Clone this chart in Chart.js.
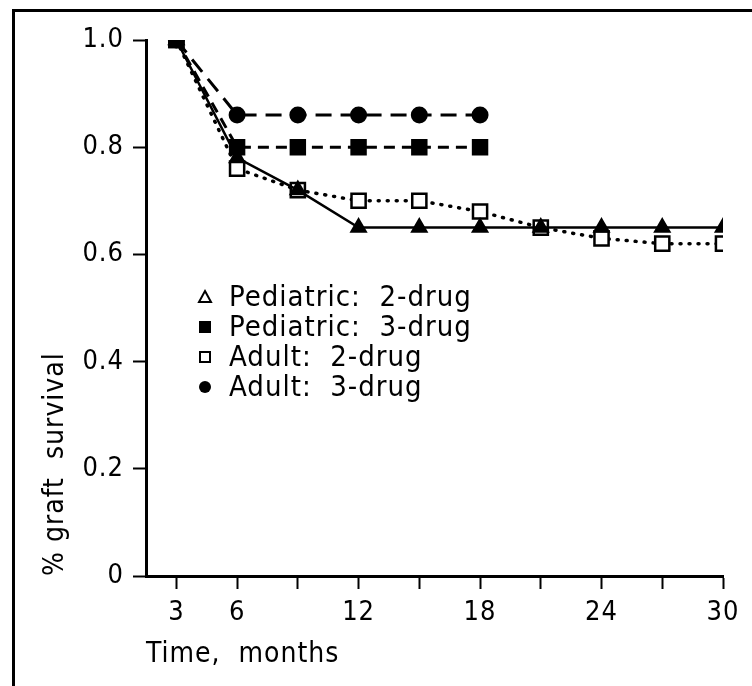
<!DOCTYPE html>
<html>
<head>
<meta charset="utf-8">
<script src="https://cdn.jsdelivr.net/npm/chart.js@4/dist/chart.umd.min.js"></script>
<style>
  body { margin: 0; background: #fff; }
  #wrap { position: relative; width: 752px; height: 686px; }
  #frame { position: absolute; left: 12px; top: 9px; right: 0; bottom: 0; border-left: 3px solid #000; border-top: 3px solid #000; pointer-events: none; }
</style>
</head>
<body>
<div id="wrap">
  <canvas id="chart" width="752" height="686"></canvas>
  <div id="frame"></div>
</div>
<script>
// months on the x axis
var ped2Months = [3, 6, 9, 12, 15, 18, 21, 24, 27, 30];
var ped2Values = [1.0, 0.78, 0.72, 0.65, 0.65, 0.65, 0.65, 0.65, 0.65, 0.65];

var ped3Months = [3, 6, 9, 12, 15, 18];
var ped3Values = [1.0, 0.80, 0.80, 0.80, 0.80, 0.80];

var adult2Months = [3, 6, 9, 12, 15, 18, 21, 24, 27, 30];
var adult2Values = [1.0, 0.76, 0.72, 0.70, 0.70, 0.68, 0.65, 0.63, 0.62, 0.62];

var adult3Months = [3, 6, 9, 12, 15, 18];
var adult3Values = [1.0, 0.86, 0.86, 0.86, 0.86, 0.86];

var xTicks = [3, 6, 9, 12, 15, 18, 21, 24, 27, 30];
var xTickLabels = ["3", "6", "", "12", "", "18", "", "24", "", "30"];
var yTicks = [0, 0.2, 0.4, 0.6, 0.8, 1.0];
var yTickLabels = ["0", "0.2", "0.4", "0.6", "0.8", "1.0"];

var seriesLabels = ["Pediatric:  2-drug", "Pediatric:  3-drug", "Adult:  2-drug", "Adult:  3-drug"];

var condensed = "'DejaVu Sans Condensed', 'DejaVu Sans', sans-serif";

function pairs(xs, ys) {
	return xs.map(function (x, i) { return { x: x, y: ys[i] }; });
}

// the scanned figure has slightly spaced lettering
var spacing = {
	id: 'spacing',
	beforeUpdate: function (chart) { chart.ctx.letterSpacing = '1px'; },
	beforeDraw: function (chart) { chart.ctx.letterSpacing = '1px'; }
};

// legend drawn inside the plot, like the original figure
var insideLegend = {
	id: 'insideLegend',
	afterDraw: function (chart) {
		var ctx = chart.ctx;
		var area = chart.chartArea;
		var x0 = area.left + 59;
		var y0 = area.top + 257;
		var step = 30;
		var kinds = ['openTriangle', 'square', 'openSquare', 'circle'];
		ctx.save();
		ctx.font = '29px ' + condensed;
		ctx.textBaseline = 'middle';
		ctx.fillStyle = '#000';
		ctx.strokeStyle = '#000';
		ctx.lineWidth = 2;
		kinds.forEach(function (k, i) {
			var y = y0 + i * step;
			ctx.beginPath();
			if (k === 'openTriangle') {
				ctx.moveTo(x0, y - 6);
				ctx.lineTo(x0 + 6, y + 5);
				ctx.lineTo(x0 - 6, y + 5);
				ctx.closePath();
				ctx.stroke();
			} else if (k === 'square') {
				ctx.rect(x0 - 6, y - 6, 12, 12);
				ctx.fill();
			} else if (k === 'openSquare') {
				ctx.rect(x0 - 5, y - 5, 10, 10);
				ctx.stroke();
			} else {
				ctx.arc(x0, y, 6, 0, Math.PI * 2);
				ctx.fill();
			}
			ctx.fillText(chart.data.datasets[i].label, x0 + 24, y + 1);
		});
		ctx.restore();
	}
};

var container = document.getElementById("chart");

var chart = new Chart(container, {
	type: 'line',
	data: {
		datasets: [{
			label: seriesLabels[0],
			data: pairs(ped2Months, ped2Values),
			borderColor: '#000',
			borderWidth: 2.5,
			pointStyle: 'triangle',
			pointRadius: 8,
			pointBackgroundColor: '#000',
			pointBorderColor: '#000'
		}, {
			label: seriesLabels[1],
			data: pairs(ped3Months, ped3Values),
			borderColor: '#000',
			borderWidth: 3,
			borderDash: [11, 7],
			pointStyle: 'rect',
			pointRadius: 9.5,
			pointBackgroundColor: '#000',
			pointBorderColor: '#000'
		}, {
			label: seriesLabels[2],
			data: pairs(adult2Months, adult2Values),
			borderColor: '#000',
			borderWidth: 3.5,
			borderDash: [1, 8],
			borderCapStyle: 'round',
			pointStyle: 'rect',
			pointRadius: 10,
			pointBorderWidth: 2.5,
			pointBackgroundColor: '#fff',
			pointBorderColor: '#000'
		}, {
			label: seriesLabels[3],
			data: pairs(adult3Months, adult3Values),
			borderColor: '#000',
			borderWidth: 3,
			borderDash: [16, 9],
			pointStyle: 'circle',
			pointRadius: 7,
			pointBackgroundColor: '#000',
			pointBorderColor: '#000'
		}]
	},
	options: {
		responsive: false,
		animation: false,
		layout: { padding: { left: 36, top: 40, right: 29, bottom: 8 } },
		plugins: {
			legend: { display: false },
			tooltip: { enabled: false }
		},
		scales: {
			x: {
				type: 'linear',
				min: 1.5,
				max: 30,
				afterBuildTicks: function (scale) {
					scale.ticks = xTicks.map(function (v) { return { value: v }; });
				},
				afterFit: function (scale) { scale.height = 102; },
				grid: { drawOnChartArea: false, drawTicks: true, tickLength: 13, tickWidth: 2, tickColor: '#000' },
				border: { display: true, color: '#000', width: 3 },
				ticks: {
					color: '#000',
					padding: 8,
					maxRotation: 0,
					autoSkip: false,
					font: { family: condensed, size: 27 },
					callback: function (v) {
						var i = xTicks.indexOf(v);
						return i < 0 ? '' : xTickLabels[i];
					}
				},
				title: {
					display: true,
					text: 'Time,  months',
					align: 'start',
					color: '#000',
					font: { family: condensed, size: 28 },
					padding: { top: 4, bottom: 6 }
				}
			},
			y: {
				min: 0,
				max: 1,
				afterBuildTicks: function (scale) {
					scale.ticks = yTicks.map(function (v) { return { value: v }; });
				},
				afterFit: function (scale) { scale.width = 110; },
				grid: { drawOnChartArea: false, drawTicks: true, tickLength: 13, tickWidth: 2, tickColor: '#000' },
				border: { display: true, color: '#000', width: 3 },
				ticks: {
					color: '#000',
					padding: 9,
					font: { family: condensed, size: 27 },
					callback: function (v) {
						var i = yTicks.indexOf(v);
						return i < 0 ? '' : yTickLabels[i];
					}
				},
				title: {
					display: true,
					text: '% graft  survival',
					align: 'start',
					color: '#000',
					font: { family: condensed, size: 28 },
					padding: { top: 3, bottom: 4 }
				}
			}
		}
	},
	plugins: [spacing, insideLegend]
});
</script>
</body>
</html>
